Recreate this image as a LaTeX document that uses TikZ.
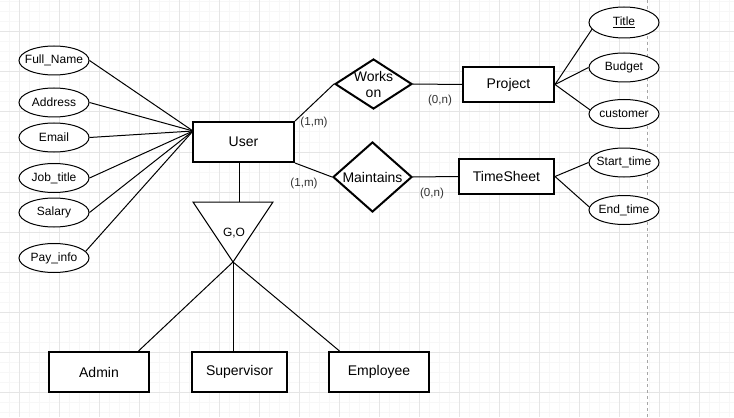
\documentclass[tikz,border=0pt]{standalone}
\usepackage{fontspec}
\setmainfont{Liberation Sans}
\usepackage{tikz}
\usetikzlibrary{shapes.geometric}

\begin{document}
\begin{tikzpicture}[x=0.75pt,y=-0.75pt,
  ent/.style={draw,fill=white,line width=1.5pt,inner sep=0pt,minimum height=30pt,font=\fontsize{10.5}{12}\selectfont},
  attr/.style={ellipse,draw,fill=white,line width=0.75pt,inner sep=0pt,minimum width=52.5pt,minimum height=21.75pt,
    label={[font=\fontsize{9}{11}\selectfont]center:#1}},
  rel/.style={diamond,draw,fill=white,line width=1.5pt,inner sep=0pt,
    label={[font=\fontsize{10.5}{12}\selectfont,align=center]center:#1}},
  card/.style={font=\fontsize{8.7}{10}\selectfont,text=black!80},
  link/.style={line width=0.75pt}]

\useasboundingbox (0,0) rectangle (734,417);
\fill[white] (0,0) rectangle (734,417);
% grid
\foreach \x in {9,19,...,729} \draw[black!3,line width=0.75pt] (\x,0) -- (\x,417);
\foreach \y in {2,12,...,412} \draw[black!3,line width=0.75pt] (0,\y) -- (734,\y);
\foreach \x in {19,59,...,699} \draw[black!10,line width=0.75pt] (\x,0) -- (\x,417);
\foreach \y in {32,72,...,392} \draw[black!10,line width=0.75pt] (0,\y) -- (734,\y);
\draw[black!35,line width=0.75pt,dash pattern=on 2.25pt off 2.25pt] (647,0) -- (647,417);

% entities
\node[ent,minimum width=75.75pt] (user) at (243.5,142) {User};
\node[ent,minimum width=68.25pt,minimum height=26.25pt] (project) at (508.5,84.5) {Project};
\node[ent,minimum width=71.25pt,minimum height=26.25pt] (timesheet) at (506.5,176.5) {TimeSheet};
\node[ent,minimum width=75pt] (admin) at (99,372) {Admin};
\node[ent,minimum width=71.25pt] (supervisor) at (239.5,372) {Supervisor};
\node[ent,minimum width=75pt] (employee) at (379,372) {Employee};

% relationships
\node[rel={Works\\on},minimum width=57.75pt,minimum height=37.5pt] (works) at (373.5,84) {};
\node[rel=Maintains,minimum width=59.25pt,minimum height=52.5pt] (maint) at (372.5,177) {};

% attributes
\node[attr=Full\_Name] (fname) at (54,60.5) {};
\node[attr=Address] (addr) at (54,102.5) {};
\node[attr=Email] (email) at (54,137.5) {};
\node[attr=Job\_title] (job) at (54,178) {};
\node[attr=Salary] (salary) at (54,212.5) {};
\node[attr=Pay\_info] (pay) at (54,258) {};
\node[attr=\underline{Title},minimum height=23.25pt] (title) at (624,22.5) {};
\node[attr=Budget] (budget) at (624,67.5) {};
\node[attr=customer] (customer) at (624,114) {};
\node[attr=Start\_time] (startt) at (624,162.5) {};
\node[attr=End\_time] (endt) at (624,210) {};

\coordinate (uattr) at (193,131);
\foreach \a in {fname,addr,email,job,salary}
  \draw[link] (\a.east) -- (uattr);
\draw[link] (pay.12) -- (uattr);

\draw[link] (project.east) -- (title.192);
\draw[link] (project.east) -- (budget.west);
\draw[link] (project.east) -- (customer.173);
\draw[link] (timesheet.east) -- (startt.west);
\draw[link] (timesheet.east) -- (endt.175);

\draw[link] (user.north east) -- (works.west);
\draw[link] (user.south east) -- (maint.west);
\draw[link] (works.east) -- (project.west);
\draw[link] (maint.east) -- (timesheet.west);

\node[card] (c1) at (314,122.5) {(1,m)};
\node[card] (c2) at (304,183) {(1,m)};
\node[card] (c3) at (440,100.5) {(0,n)};
\node[card] (c4) at (432,193) {(0,n)};

% specialization triangle
\coordinate (gl) at (193,202);
\coordinate (gr) at (273,202);
\coordinate (gap) at (233,262);
\coordinate (gtop) at (239,202);
\draw[link,fill=white] (gl) -- (gr) -- (gap) -- cycle;
\node[font=\fontsize{9}{11}\selectfont] (go) at (234,233) {G,O};
\draw[link] (user.south -| gtop) -- (gtop);
\draw[link] (gap) -- (admin.28);
\draw[link] (gap) -- (supervisor.north -| gap);
\draw[link] (gap) -- (employee.152);
\end{tikzpicture}
\end{document}
